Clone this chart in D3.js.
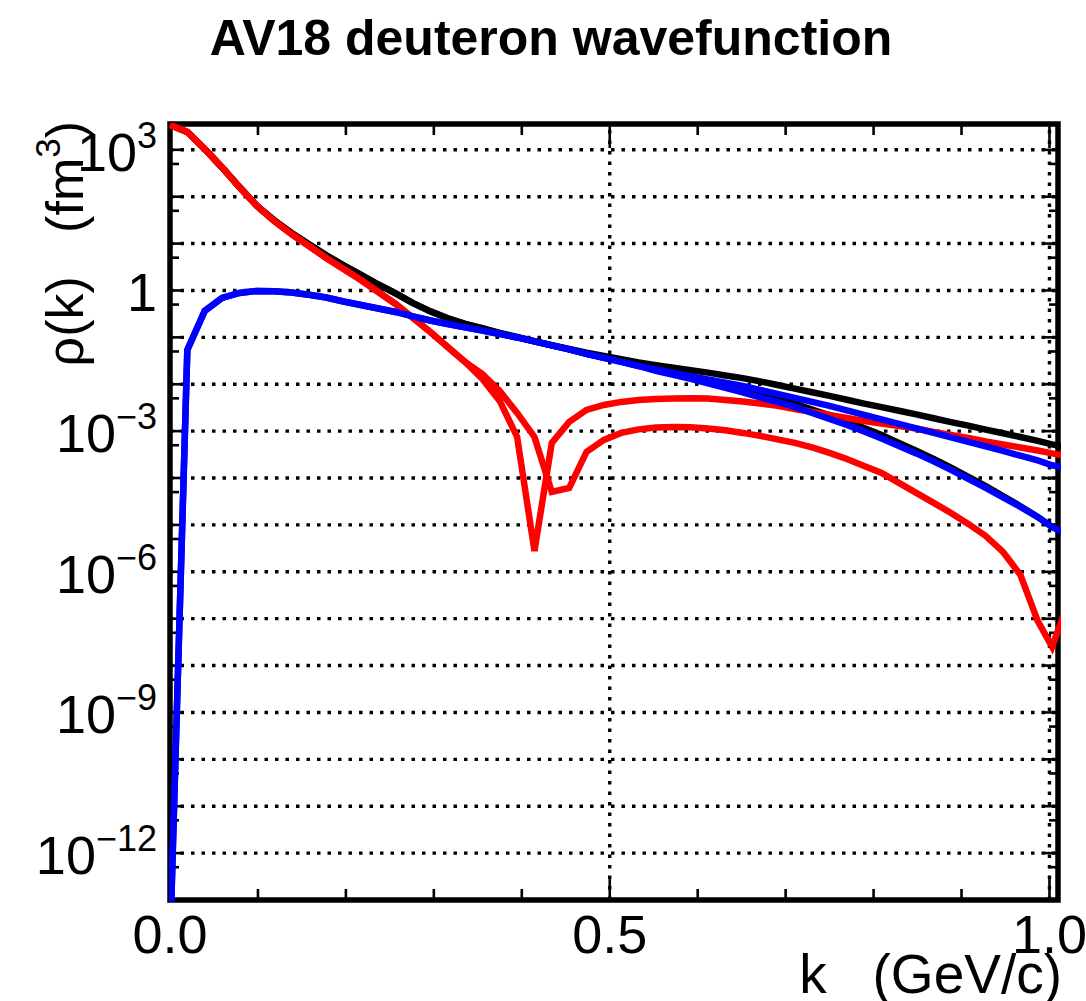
<!DOCTYPE html>
<html>
<head>
<meta charset="utf-8">
<script src="https://cdn.jsdelivr.net/npm/d3@7"></script>
<style>
  html, body { margin: 0; padding: 0; background: #fff; }
  svg { display: block; }
  text { font-family: "Liberation Sans", Arial, Helvetica, sans-serif; fill: #000; white-space: pre; }
</style>
</head>
<body>
<svg id="chart" width="1086" height="1001"></svg>
<script>
// ---------------- data ----------------
const title = "AV18 deuteron wavefunction";
const xTitle = "k   (GeV/c)";

// momentum grid, GeV/c
const k = [0, 0.0197, 0.0395, 0.0592, 0.0789, 0.0987, 0.1184, 0.1381, 0.1579, 0.1776,
  0.1973, 0.2171, 0.2368, 0.2565, 0.2763, 0.2960, 0.3157, 0.3355, 0.3552, 0.3749,
  0.3947, 0.4144, 0.4341, 0.4539, 0.4736, 0.4933, 0.5131, 0.5328, 0.5525, 0.5723,
  0.5920, 0.6117, 0.6315, 0.6512, 0.6709, 0.6907, 0.7104, 0.7301, 0.7499, 0.7696,
  0.7893, 0.8091, 0.8288, 0.8485, 0.8683, 0.8880, 0.9077, 0.9275, 0.9472, 0.9669,
  0.9866, 1.0030, 1.0261];

// total (black), upper curve
const totalA = [3380, 2400, 1040, 421, 161, 64.4, 31.3, 16.9, 9.70, 5.64,
  3.45, 2.16, 1.34, 0.863, 0.538, 0.359, 0.255, 0.193, 0.153, 0.122,
  0.100, 0.0818, 0.0678, 0.0568, 0.0471, 0.0400, 0.0341, 0.0291, 0.0256, 0.0224,
  0.0198, 0.0177, 0.0154, 0.0135, 0.0115, 9.66e-3, 8.07e-3, 6.76e-3, 5.66e-3, 4.67e-3,
  3.86e-3, 3.24e-3, 2.72e-3, 2.28e-3, 1.88e-3, 1.56e-3, 1.31e-3, 1.08e-3, 9.0e-4, 7.5e-4,
  6.2e-4, 5.2e-4, 4.3e-4];
// total (black), lower curve
const totalB = [3380, 2400, 1040, 421, 161, 64.4, 31.3, 16.9, 9.70, 5.64,
  3.45, 2.16, 1.34, 0.863, 0.538, 0.359, 0.255, 0.193, 0.157, 0.125,
  0.102, 0.0826, 0.0673, 0.0553, 0.0447, 0.0370, 0.0308, 0.0256, 0.0204, 0.0170,
  0.0142, 0.0115, 9.4e-3, 7.6e-3, 6.0e-3, 4.87e-3, 3.84e-3, 2.89e-3, 2.16e-3, 1.62e-3,
  1.17e-3, 8.3e-4, 5.6e-4, 3.8e-4, 2.56e-4, 1.67e-4, 1.06e-4, 6.73e-5, 4.13e-5, 2.51e-5,
  1.48e-5, 9.1e-6, 5.6e-6];
// S-wave (red), curve with the deep node
const sWaveA = [3380, 2400, 1040, 420, 160, 63.4, 30.3, 16.0, 8.89, 4.93,
  2.87, 1.67, 0.929, 0.515, 0.259, 0.130, 0.0624, 0.0299, 0.0130, 4.41e-3,
  7.52e-4, 2.79e-6, 5.60e-4, 1.57e-3, 2.83e-3, 3.62e-3, 4.20e-3, 4.63e-3, 4.86e-3, 4.98e-3,
  5.03e-3, 4.98e-3, 4.63e-3, 4.30e-3, 3.90e-3, 3.45e-3, 2.97e-3, 2.56e-3, 2.21e-3, 1.91e-3,
  1.65e-3, 1.46e-3, 1.29e-3, 1.14e-3, 9.62e-4, 8.30e-4, 7.16e-4, 6.03e-4, 5.20e-4, 4.49e-4,
  3.87e-4, 3.35e-4, 2.82e-4];
// S-wave (red), curve with the shallow node
const sWaveB = [3380, 2400, 1040, 420, 160, 63.4, 30.3, 16.0, 8.89, 4.93,
  2.87, 1.67, 0.929, 0.515, 0.259, 0.130, 0.0624, 0.0299, 0.0166, 7.20e-3,
  2.44e-3, 7.52e-4, 5.05e-5, 6.15e-5, 3.60e-4, 6.49e-4, 9.16e-4, 1.09e-3, 1.20e-3, 1.23e-3,
  1.21e-3, 1.14e-3, 1.04e-3, 9.16e-4, 7.91e-4, 6.65e-4, 5.60e-4, 4.49e-4, 3.43e-4, 2.55e-4,
  1.81e-4, 1.28e-4, 7.87e-5, 4.81e-5, 2.94e-5, 1.80e-5, 1.05e-5, 5.82e-6, 2.65e-6, 8.59e-7,
  8.97e-8, 2.51e-8, 4.0e-7];
// D-wave (blue), upper curve
const dWaveA = [1e-14, 0.0539, 0.366, 0.692, 0.885, 0.976, 0.962, 0.906, 0.809, 0.709,
  0.583, 0.491, 0.413, 0.348, 0.279, 0.229, 0.193, 0.163, 0.140, 0.118,
  0.0995, 0.0818, 0.0672, 0.0552, 0.0443, 0.0364, 0.0299, 0.0245, 0.0207, 0.0174,
  0.0148, 0.0127, 0.0108, 9.20e-3, 7.55e-3, 6.21e-3, 5.10e-3, 4.20e-3, 3.45e-3, 2.76e-3,
  2.21e-3, 1.78e-3, 1.43e-3, 1.14e-3, 9.16e-4, 7.34e-4, 5.89e-4, 4.72e-4, 3.78e-4, 2.99e-4,
  2.37e-4, 1.87e-4, 1.49e-4];
// D-wave (blue), lower curve
const dWaveB = [1e-14, 0.0539, 0.366, 0.692, 0.885, 0.976, 0.962, 0.906, 0.809, 0.709,
  0.583, 0.491, 0.413, 0.348, 0.279, 0.229, 0.193, 0.163, 0.140, 0.118,
  0.0995, 0.0818, 0.0672, 0.0552, 0.0443, 0.0364, 0.0299, 0.0245, 0.0192, 0.0158,
  0.0130, 0.0104, 8.34e-3, 6.68e-3, 5.24e-3, 4.20e-3, 3.28e-3, 2.44e-3, 1.82e-3, 1.36e-3,
  9.86e-4, 6.98e-4, 4.83e-4, 3.35e-4, 2.26e-4, 1.49e-4, 9.57e-5, 6.15e-5, 3.86e-5, 2.42e-5,
  1.48e-5, 9.06e-6, 5.55e-6];

// axis ticks / labels
const yGridExps = [-12, -11, -10, -9, -8, -7, -6, -5, -4, -3, -2, -1, 0, 1, 2, 3];
const yMinorTicks = [5e-13, 5e-12, 5e-11, 5e-10, 5e-9, 5e-8, 5e-7, 5e-6, 5e-5, 5e-4, 5e-3, 5e-2, 0.5, 5, 50, 500];
const yLabelExps = [3, 0, -3, -6, -9, -12];
const xMajorTicks = [0, 0.5, 1.0];
const xMajorLabels = ["0.0", "0.5", "1.0"];
const xMinorTicks = [0.1, 0.2, 0.3, 0.4, 0.6, 0.7, 0.8, 0.9];
const xGrid = [0.5, 1.0];

// ---------------- drawing ----------------
const svg = d3.select("#chart");
const L = 170, R = 1058, T = 124, B = 900;
const x = d3.scaleLinear().domain([0, 1.0097]).range([L, R]);
const y = d3.scaleLog().domain([1e-13, 3.55e3]).range([B, T]);

// title
svg.append("text").attr("x", 551).attr("y", 55).attr("text-anchor", "middle")
  .attr("font-size", 50).attr("font-weight", "bold").text(title);

// grid
const grid = svg.append("g").attr("stroke", "#000").attr("stroke-width", 3.4)
  .attr("stroke-dasharray", "3.5,7");
grid.selectAll("line.h").data(yGridExps).join("line").attr("class", "h")
  .attr("x1", L).attr("x2", R)
  .attr("y1", e => y(Math.pow(10, e))).attr("y2", e => y(Math.pow(10, e)));
grid.selectAll("line.v").data(xGrid).join("line").attr("class", "v")
  .attr("y1", B).attr("y2", T)
  .attr("x1", d => x(d)).attr("x2", d => x(d));

// ticks
const ticks = svg.append("g").attr("stroke", "#000").attr("stroke-width", 2.6);
yGridExps.forEach(e => {
  const yy = y(Math.pow(10, e));
  ticks.append("line").attr("x1", L).attr("x2", L + 13).attr("y1", yy).attr("y2", yy);
  ticks.append("line").attr("x1", R).attr("x2", R - 13).attr("y1", yy).attr("y2", yy);
});
yMinorTicks.forEach(v => {
  const yy = y(v);
  ticks.append("line").attr("x1", L).attr("x2", L + 9).attr("y1", yy).attr("y2", yy);
  ticks.append("line").attr("x1", R).attr("x2", R - 9).attr("y1", yy).attr("y2", yy);
});
xMinorTicks.forEach(v => {
  const xx = x(v);
  ticks.append("line").attr("x1", xx).attr("x2", xx).attr("y1", B).attr("y2", B - 11);
  ticks.append("line").attr("x1", xx).attr("x2", xx).attr("y1", T).attr("y2", T + 11);
});
xMajorTicks.forEach(v => {
  const xx = x(v);
  ticks.append("line").attr("x1", xx).attr("x2", xx).attr("y1", B).attr("y2", B - 24);
  ticks.append("line").attr("x1", xx).attr("x2", xx).attr("y1", T).attr("y2", T + 24);
});

// frame
svg.append("rect").attr("x", L).attr("y", T).attr("width", R - L).attr("height", B - T)
  .attr("fill", "none").attr("stroke", "#000").attr("stroke-width", 5.5);

// curves (drawn over the frame, clipped at its outer edge)
svg.append("clipPath").attr("id", "clip").append("rect")
  .attr("x", L - 1).attr("y", T - 1).attr("width", R - L + 4).attr("height", B - T + 3);
const line = d3.line().x((d, i) => x(k[i])).y(d => y(d));
const curves = svg.append("g").attr("clip-path", "url(#clip)")
  .attr("fill", "none").attr("stroke-width", 6.5)
  .attr("stroke-linejoin", "miter").attr("stroke-miterlimit", 6);
[[totalA, "#000"], [totalB, "#000"], [sWaveA, "#ff0000"], [sWaveB, "#ff0000"],
 [dWaveA, "#0000ff"], [dWaveB, "#0000ff"]].forEach(([s, c]) => {
  curves.append("path").attr("d", line(s)).attr("stroke", c);
});

// y tick labels
const yl = svg.append("g").attr("font-size", 54).attr("text-anchor", "end");
yLabelExps.forEach(e => {
  const t = yl.append("text").attr("x", 157).attr("y", y(Math.pow(10, e)) + 21);
  if (e === 0) { t.text("1"); }
  else {
    t.append("tspan").text("10");
    t.append("tspan").attr("dy", -23).attr("font-size", 36)
      .text(e < 0 ? "\u2212" + (-e) : String(e));
  }
});

// x tick labels
svg.append("g").attr("font-size", 54).attr("text-anchor", "middle")
  .selectAll("text").data(xMajorTicks).join("text")
  .attr("x", d => x(d)).attr("y", 953).text((d, i) => xMajorLabels[i]);

// axis titles
svg.append("text").attr("x", 1062).attr("y", 993).attr("text-anchor", "end")
  .attr("font-size", 55).text(xTitle);

const yt = svg.append("text").attr("text-anchor", "end").attr("font-size", 52)
  .attr("transform", "translate(83,121) rotate(-90)");
yt.append("tspan").text("\u03c1(k)   (fm");
yt.append("tspan").attr("dy", -23).attr("font-size", 35).text("3");
yt.append("tspan").attr("dy", 23).text(")");
</script>
</body>
</html>
